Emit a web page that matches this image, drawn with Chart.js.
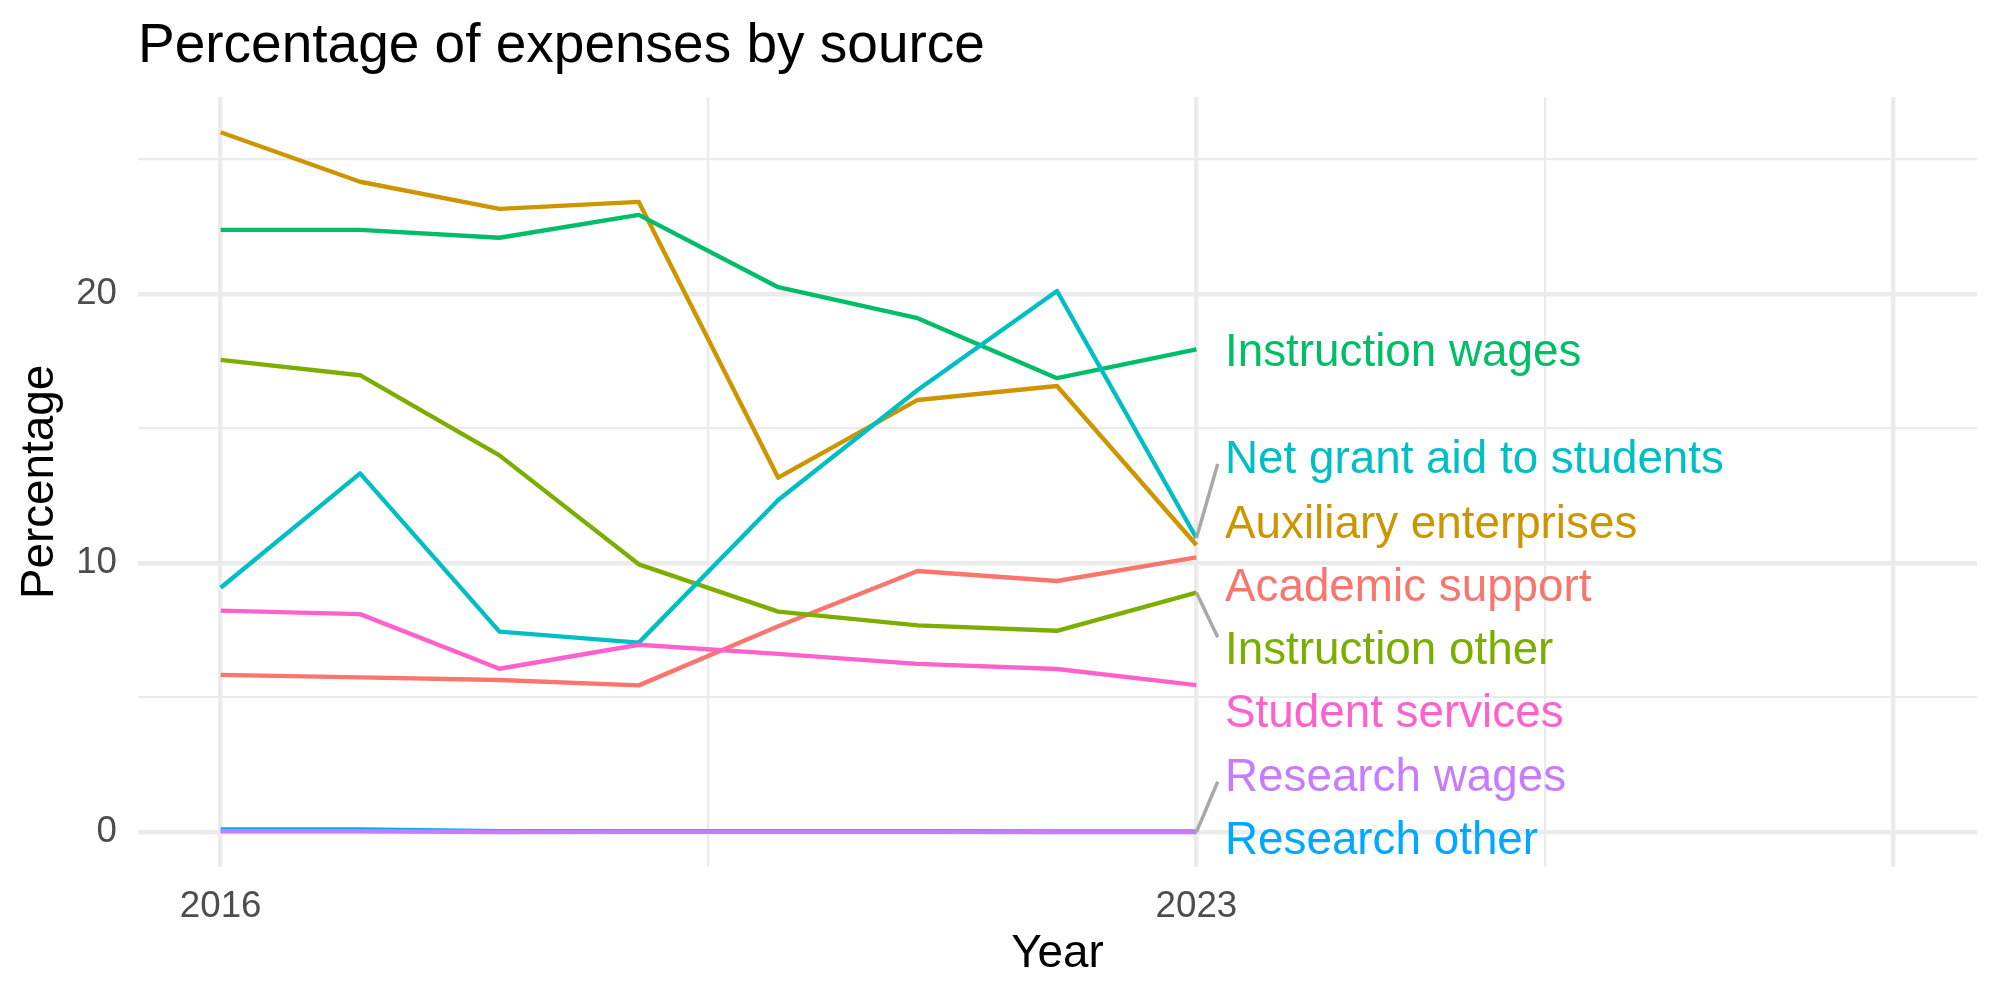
<!DOCTYPE html>
<html><head><meta charset="utf-8">
<script src="https://cdn.jsdelivr.net/npm/chart.js@4.4.1/dist/chart.umd.min.js"></script>
<style>html,body{margin:0;padding:0;background:#fff;}canvas{display:block;}</style>
</head><body>
<canvas id="c" width="2000" height="1000"></canvas>
<script>
const years = [2016, 2017, 2018, 2019, 2020, 2021, 2022, 2023];
const seriesNames = ["Academic support", "Auxiliary enterprises", "Instruction other", "Instruction wages",
  "Net grant aid to students", "Research other", "Research wages", "Student services"];
const academicSupport      = [5.84, 5.75, 5.65, 5.45, 7.65, 9.70, 9.33, 10.21];
const auxiliaryEnterprises = [26.01, 24.17, 23.16, 23.42, 13.17, 16.06, 16.58, 10.67];
const instructionOther     = [17.55, 16.98, 14.00, 9.95, 8.19, 7.68, 7.48, 8.90];
const instructionWages     = [22.38, 22.38, 22.09, 22.94, 20.25, 19.10, 16.87, 17.94];
const netGrantAid          = [9.08, 13.33, 7.45, 7.04, 12.34, 16.43, 20.11, 10.93];
const researchOther        = [0.10, 0.10, 0.03, 0.03, 0.03, 0.03, 0.02, 0.02];
const researchWages        = [0.03, 0.03, 0.00, 0.01, 0.01, 0.01, 0.00, 0.00];
const studentServices      = [8.23, 8.10, 6.07, 6.96, 6.62, 6.25, 6.06, 5.46];
const seriesColors = ["#F8766D", "#CD9600", "#7CAE00", "#00BE67", "#00BFC4", "#00A9FF", "#C77CFF", "#FF61CC"];
// label positions (data units) for the repelled text labels
const labelX = 2023.205;
const labelY = [9.18, 11.52, 6.84, 17.92, 13.94, -0.21, 2.14, 4.50];
const segmentEndX = 2023.153;
const segmentEndY = [null, null, 7.24, null, 13.68, null, 1.87, null];
// axis ticks
const xTicks = [2016, 2019.5, 2023, 2025.5, 2028];
const xTickLabels = ["2016", "", "2023", "", ""];
const xMajor = [2016, 2023, 2028];
const yTicks = [0, 5, 10, 15, 20, 25];
const yTickLabels = ["0", "", "10", "", "20", ""];
const yMajor = [0, 10, 20];
const titleText = "Percentage of expenses by source";
const xTitle = "Year";
const yTitle = "Percentage";

const seriesValues = [academicSupport, auxiliaryEnterprises, instructionOther, instructionWages,
  netGrantAid, researchOther, researchWages, studentServices];

const FONT = '"Liberation Sans", Arial, Helvetica, sans-serif';

const annot = {
  id: 'annot',
  afterDatasetsDraw(chart) {
    const {ctx, scales: {x, y}} = chart;
    ctx.save();
    ctx.strokeStyle = '#A8A8A8';
    ctx.lineWidth = 3.5;
    ctx.lineCap = 'butt';
    const last = years.length - 1;
    seriesValues.forEach((vals, i) => {
      if (segmentEndY[i] === null) return;
      ctx.beginPath();
      ctx.moveTo(x.getPixelForValue(years[last]), y.getPixelForValue(vals[last]));
      ctx.lineTo(x.getPixelForValue(segmentEndX), y.getPixelForValue(segmentEndY[i]));
      ctx.stroke();
    });
    ctx.font = '45.8px ' + FONT;
    ctx.textAlign = 'left';
    ctx.textBaseline = 'alphabetic';
    seriesNames.forEach((n, i) => {
      ctx.fillStyle = seriesColors[i];
      ctx.fillText(n, x.getPixelForValue(labelX), y.getPixelForValue(labelY[i]) + 16.4);
    });
    ctx.restore();
  },
  afterDraw(chart) {
    const {ctx, chartArea} = chart;
    ctx.save();
    ctx.font = '55px ' + FONT;
    ctx.fillStyle = '#000';
    ctx.textAlign = 'left';
    ctx.textBaseline = 'alphabetic';
    ctx.fillText(titleText, chartArea.left, 61.7);
    ctx.restore();
  }
};

new Chart(document.getElementById('c'), {
  type: 'line',
  data: {
    datasets: seriesNames.map((n, i) => ({
      label: n,
      data: years.map((yr, j) => ({x: yr, y: seriesValues[i][j]})),
      borderColor: seriesColors[i],
      backgroundColor: seriesColors[i],
      borderWidth: 4.4,
      borderJoinStyle: 'round',
      pointRadius: 0,
      fill: false,
      tension: 0,
      order: seriesNames.length - i
    }))
  },
  options: {
    responsive: false,
    devicePixelRatio: 1,
    animation: false,
    layout: {padding: {top: 97, right: 23, left: 0, bottom: 0}},
    plugins: {legend: {display: false}, tooltip: {enabled: false}, title: {display: false}},
    scales: {
      x: {
        type: 'linear',
        min: 2015.407,
        max: 2028.60,
        afterBuildTicks: s => { s.ticks = xTicks.map(v => ({value: v})); },
        afterFit: s => { s.height = 133; },
        border: {display: false},
        grid: {
          color: '#EBEBEB',
          drawTicks: false,
          lineWidth: c => (c.tick && xMajor.includes(c.tick.value)) ? 4.4 : 2.2
        },
        ticks: {
          autoSkip: false,
          maxRotation: 0,
          padding: 18,
          color: '#4D4D4D',
          font: {family: FONT, size: 36.7},
          callback: (v) => { const k = xTicks.indexOf(v); return k >= 0 ? xTickLabels[k] : ''; }
        },
        title: {display: true, text: xTitle, color: '#000', font: {family: FONT, size: 45.8}, padding: {top: 0, bottom: 18.5}}
      },
      y: {
        type: 'linear',
        min: -1.3,
        max: 27.32,
        afterBuildTicks: s => { s.ticks = yTicks.map(v => ({value: v})); },
        afterFit: s => { s.width = 138; },
        border: {display: false},
        grid: {
          color: '#EBEBEB',
          drawTicks: false,
          lineWidth: c => (c.tick && yMajor.includes(c.tick.value)) ? 4.4 : 2.2
        },
        ticks: {
          autoSkip: false,
          padding: 21,
          color: '#4D4D4D',
          font: {family: FONT, size: 36.7},
          callback: (v) => { const k = yTicks.indexOf(v); return k >= 0 ? yTickLabels[k] : ''; }
        },
        title: {display: true, text: yTitle, color: '#000', font: {family: FONT, size: 45.8}, padding: {top: 12.5, bottom: 0}}
      }
    }
  },
  plugins: [annot]
});
</script>
</body></html>
